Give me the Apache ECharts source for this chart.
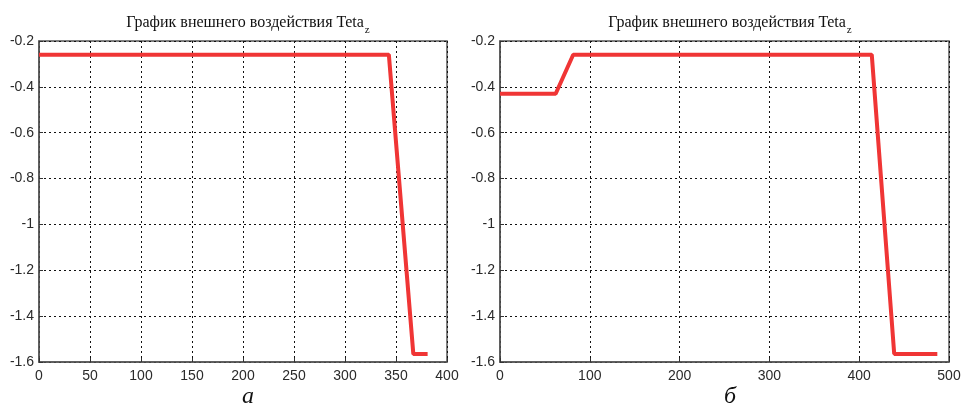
<!DOCTYPE html>
<html>
<head>
<meta charset="utf-8">
<script src="https://cdn.jsdelivr.net/npm/echarts@6/dist/echarts.min.js"></script>
<style>
  html, body { margin: 0; padding: 0; background: #fff; }
  #chart { width: 964px; height: 413px; }
</style>
</head>
<body>
<div id="chart"></div>
<script>
// panel а
const leftX = [0, 343, 367, 381]
const leftY = [-0.26, -0.26, -1.565, -1.565]
// panel б
const rightX = [0, 62, 81.5, 414, 439, 487]
const rightY = [-0.43, -0.43, -0.26, -0.26, -1.565, -1.565]

const titleText = 'График внешнего воздействия Teta'
const titleSub = 'z'
const panelLabels = ['а', 'б']

const chart = echarts.init(document.getElementById('chart'))

const tickFont = { color: '#2a2a2a', fontFamily: 'Liberation Sans', fontSize: 14 }
const gridLine = { show: true, lineStyle: { color: '#111', type: [2, 3], width: 1 } }
const frameLine = { show: true, onZero: false, lineStyle: { color: '#555', width: 1.5 } }

function fmtY(v) {
  return String(Math.round(v * 10) / 10)
}

function xAxis(idx, max, interval) {
  return {
    gridIndex: idx,
    type: 'value',
    min: 0,
    max: max,
    interval: interval,
    axisLine: frameLine,
    axisTick: { show: true, inside: true, length: 4, lineStyle: { color: '#333' } },
    axisLabel: { ...tickFont, margin: 7 },
    splitLine: gridLine,
  }
}

function yAxis(idx) {
  return {
    gridIndex: idx,
    type: 'value',
    min: -1.6,
    max: -0.2,
    interval: 0.2,
    axisLine: frameLine,
    axisTick: { show: true, inside: true, length: 4, lineStyle: { color: '#333' } },
    axisLabel: { ...tickFont, margin: 5, formatter: fmtY },
    splitLine: gridLine,
  }
}

function title(left) {
  return {
    text: '{m|' + titleText + '}{s|' + titleSub + '}',
    left: left,
    top: 8,
    textAlign: 'center',
    textStyle: {
      fontWeight: 'normal',
      rich: {
        m: { fontFamily: 'Liberation Serif', fontWeight: 'normal', fontSize: 16, color: '#111', lineHeight: 20 },
        s: { fontFamily: 'Liberation Serif', fontWeight: 'normal', fontSize: 11, color: '#111', lineHeight: 20, padding: [14, 0, 0, 1] },
      },
    },
  }
}

function label(left, text) {
  return {
    text: text,
    left: left,
    top: 380,
    textAlign: 'center',
    textStyle: { fontFamily: 'Liberation Serif', fontStyle: 'italic', fontWeight: 'normal', fontSize: 24, color: '#111' },
  }
}

const lineStyle = { color: '#f03535', width: 4 }

chart.setOption({
  animation: false,
  title: [
    title(243), title(725),
    label(243, panelLabels[0]), label(725, panelLabels[1]),
  ],
  grid: [
    { left: 39, right: 517, top: 41, bottom: 51, show: true, borderColor: '#555', borderWidth: 1.5 },
    { left: 500, right: 15, top: 41, bottom: 51, show: true, borderColor: '#555', borderWidth: 1.5 },
  ],
  xAxis: [xAxis(0, 400, 50), xAxis(1, 500, 100)],
  yAxis: [yAxis(0), yAxis(1)],
  series: [
    {
      type: 'line',
      xAxisIndex: 0,
      yAxisIndex: 0,
      data: leftX.map((x, i) => [x, leftY[i]]),
      showSymbol: false,
      lineStyle: lineStyle,
    },
    {
      type: 'line',
      xAxisIndex: 1,
      yAxisIndex: 1,
      data: rightX.map((x, i) => [x, rightY[i]]),
      showSymbol: false,
      lineStyle: lineStyle,
    },
  ],
})
</script>
</body>
</html>
